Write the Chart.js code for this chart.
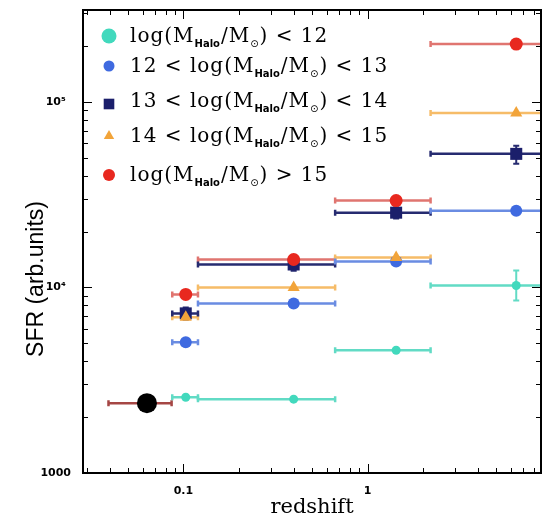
<!DOCTYPE html>
<html><head><meta charset="utf-8">
<script src="https://cdn.jsdelivr.net/npm/chart.js@4.4.1/dist/chart.umd.min.js"></script>
<style>html,body{margin:0;padding:0;background:#fff;}#wrap{width:551px;height:524px;position:relative;}</style>
</head><body><div id="wrap"><canvas id="c" width="551" height="524"></canvas></div>
<script>
// ---- data ----
const binCenter = [0.103, 0.397, 1.43, 6.42];
const binLow    = [0.087, 0.120, 0.667, 2.2];
const binHigh   = [0.120, 0.667, 2.2, 15];
const sfrBelow12 = [2560, 2500, 4590, 10250];
const sfr12to13  = [5060, 8200, 13800, 25900];
const sfr13to14  = [7250, 13300, 25300, 52500];
const sfr14to15  = [6900, 10000, 14500, 87300];
const sfrAbove15 = [9170, 14150, 29400, 205000];
const errLowBelow12  = [null, null, null, 8510];
const errHighBelow12 = [null, null, null, 12340];
const errLow13to14   = [6730, 12300, 23500, 46400];
const errHigh13to14  = [7800, 14000, 27000, 58000];
const localZ = [0.0634];
const localZLow = [0.0392];
const localZHigh = [0.0863];
const localSfr = [2380];
const xTickValues = [0.1, 1];
const xTickLabels = ['0.1', '1'];
const yTickValues = [1000, 10000, 100000];
const yTickLabels = ['1000', '10\u2074', '10\u2075'];
const yTitle = 'SFR (arb.units)';
const legendLabels = [
  [['log(M'], ['Halo', 'sub'], ['/M'], ['\u2299', 'sub'], [') < 12']],
  [['12 < log(M'], ['Halo', 'sub'], ['/M'], ['\u2299', 'sub'], [') < 13']],
  [['13 < log(M'], ['Halo', 'sub'], ['/M'], ['\u2299', 'sub'], [') < 14']],
  [['14 < log(M'], ['Halo', 'sub'], ['/M'], ['\u2299', 'sub'], [') < 15']],
  [['log(M'], ['Halo', 'sub'], ['/M'], ['\u2299', 'sub'], [') > 15']]
];

// ---- styles ----
const seriesDefs = [
  {vals: sfrBelow12, lo: errLowBelow12, hi: errHighBelow12, color: '#42d9bd', line: '#62dbc5', style: 'circle', r: 4.5, legR: 7.5},
  {vals: sfr12to13, lo: null, hi: null, color: '#3f6ae0', line: '#6a8ce2', style: 'circle', r: 6, legR: 5.5},
  {vals: sfr13to14, lo: errLow13to14, hi: errHigh13to14, color: '#1b1f6b', line: '#262b70', style: 'rect', r: 8.5, legR: 7.5},
  {vals: sfr14to15, lo: null, hi: null, color: '#f2a43a', line: '#f6bc68', style: 'triangle', r: 7, legR: 6},
  {vals: sfrAbove15, lo: null, hi: null, color: '#e8281f', line: '#e07570', style: 'circle', r: 6.5, legR: 6}
];

const datasets = [];
seriesDefs.forEach((s, k) => {
  datasets.push({
    data: binCenter.map((z, i) => ({x: z, y: s.vals[i]})),
    xLow: binLow, xHigh: binHigh, yLow: s.lo, yHigh: s.hi,
    barColor: s.line,
    pointStyle: s.style, pointRadius: s.r,
    backgroundColor: s.color, borderColor: s.color, borderWidth: 0,
    showLine: false, order: 5 - k
  });
});
datasets.push({
  data: localZ.map((z, i) => ({x: z, y: localSfr[i]})),
  xLow: localZLow, xHigh: localZHigh, yLow: null, yHigh: null,
  barColor: '#a54644',
  pointStyle: 'circle', pointRadius: 10,
  backgroundColor: '#000', borderColor: '#000', borderWidth: 0, showLine: false, order: 0
});

function marker(ctx, style, x, y, r, color) {
  ctx.fillStyle = color;
  ctx.beginPath();
  if (style === 'rect') {
    const s = Math.SQRT1_2 * r;
    ctx.rect(x - s, y - s, 2 * s, 2 * s);
  } else if (style === 'triangle') {
    ctx.moveTo(x, y - r);
    ctx.lineTo(x + r * 0.866, y + r * 0.5);
    ctx.lineTo(x - r * 0.866, y + r * 0.5);
    ctx.closePath();
  } else {
    ctx.arc(x, y, r, 0, Math.PI * 2);
  }
  ctx.fill();
}

const errorBars = {
  id: 'errorBars',
  beforeDatasetsDraw(chart) {
    const {ctx, chartArea: a, scales: {x, y}} = chart;
    ctx.save();
    ctx.beginPath();
    ctx.rect(a.left, a.top, a.right - a.left, a.bottom - a.top);
    ctx.clip();
    chart.data.datasets.slice().reverse().forEach(ds => {
      ctx.strokeStyle = ds.barColor;
      ctx.lineWidth = 2.5;
      ds.data.forEach((p, i) => {
        const py = y.getPixelForValue(p.y);
        const x0 = x.getPixelForValue(ds.xLow[i]);
        const x1 = x.getPixelForValue(ds.xHigh[i]);
        ctx.beginPath();
        ctx.moveTo(x0, py); ctx.lineTo(x1, py);
        ctx.moveTo(x0, py - 3); ctx.lineTo(x0, py + 3);
        ctx.moveTo(x1, py - 3); ctx.lineTo(x1, py + 3);
        ctx.stroke();
        if (ds.yLow && ds.yLow[i] != null) {
          const px = x.getPixelForValue(p.x);
          const y0 = y.getPixelForValue(ds.yLow[i]);
          const y1 = y.getPixelForValue(ds.yHigh[i]);
          ctx.lineWidth = 2;
          ctx.beginPath();
          ctx.moveTo(px, y0); ctx.lineTo(px, y1);
          ctx.moveTo(px - 3, y0); ctx.lineTo(px + 3, y0);
          ctx.moveTo(px - 3, y1); ctx.lineTo(px + 3, y1);
          ctx.stroke();
          ctx.lineWidth = 2.5;
        }
      });
    });
    ctx.restore();
  }
};

const frame = {
  id: 'frame',
  afterDraw(chart) {
    const {ctx, chartArea: a, scales: {x, y}} = chart;
    ctx.save();
    ctx.strokeStyle = '#000';
    ctx.lineWidth = 1;
    for (const d of [1000, 10000, 100000]) {
      for (let k = 1; k <= 9; k++) {
        const v = k * d;
        if (v < y.min || v > y.max) continue;
        const py = Math.round(y.getPixelForValue(v)) + 0.5;
        const len = k === 1 ? 9 : 5;
        ctx.beginPath();
        ctx.moveTo(a.left, py); ctx.lineTo(a.left + len, py);
        ctx.moveTo(a.right, py); ctx.lineTo(a.right - len, py);
        ctx.stroke();
      }
    }
    for (const d of [0.01, 0.1, 1]) {
      for (let k = 1; k <= 9; k++) {
        const v = k * d;
        if (v < x.min || v > x.max) continue;
        const px = Math.round(x.getPixelForValue(v)) + 0.5;
        const len = k === 1 ? 9 : 5;
        ctx.beginPath();
        ctx.moveTo(px, a.bottom); ctx.lineTo(px, a.bottom - len);
        ctx.moveTo(px, a.top); ctx.lineTo(px, a.top + len);
        ctx.stroke();
      }
    }
    ctx.lineWidth = 2;
    ctx.strokeRect(a.left, a.top, a.right - a.left, a.bottom - a.top);
    // y-axis title
    ctx.translate(37, 279);
    ctx.rotate(-Math.PI / 2);
    ctx.font = '23px "Liberation Sans"';
    ctx.fillStyle = '#000';
    ctx.textAlign = 'center';
    ctx.textBaseline = 'middle';
    ctx.fillText(yTitle, 0, 0);
    ctx.restore();
  }
};

const legendRowY = [36, 66, 101, 136, 175];
const legend = {
  id: 'customLegend',
  afterDraw(chart) {
    const ctx = chart.ctx;
    ctx.save();
    ctx.textBaseline = 'alphabetic';
    ctx.fillStyle = '#000';
    seriesDefs.forEach((s, i) => {
      const cy = legendRowY[i];
      marker(ctx, s.style, 109, cy + (s.style === 'rect' ? 3 : 0), s.legR, s.color);
      let tx = 130;
      const base = cy + 6;
      ctx.fillStyle = '#000';
      legendLabels[i].forEach(seg => {
        if (seg[1] === 'sub') {
          ctx.font = seg[0] === 'Halo' ? 'bold 10px "DejaVu Sans"' : '10px "DejaVu Sans"';
          ctx.letterSpacing = '0px';
          ctx.fillText(seg[0], tx, base + 5);
          tx += ctx.measureText(seg[0]).width + 1;
        } else {
          ctx.font = '20px "DejaVu Serif"';
          ctx.letterSpacing = '1px';
          ctx.fillText(seg[0], tx, base);
          tx += ctx.measureText(seg[0]).width;
        }
      });
    });
    ctx.restore();
  }
};

new Chart(document.getElementById('c'), {
  type: 'scatter',
  data: {datasets},
  plugins: [errorBars, frame, legend],
  options: {
    responsive: false,
    animation: false,
    devicePixelRatio: 1,
    layout: {padding: {left: 0, right: 3, top: 9, bottom: 0}},
    plugins: {legend: {display: false}, tooltip: {enabled: false}},
    scales: {
      x: {
        type: 'logarithmic', min: 0.0285, max: 8.75,
        grid: {display: false, drawTicks: false},
        border: {display: false},
        afterBuildTicks: s => { s.ticks = xTickValues.map(v => ({value: v})); },
        afterFit: s => { s.height = 51; s.paddingLeft = 0; s.paddingRight = 0; },
        ticks: {
          autoSkip: false, maxRotation: 0, padding: 12, color: '#000',
          font: {family: '"DejaVu Sans"', size: 11, weight: 'bold'},
          callback: (v) => xTickLabels[xTickValues.indexOf(v)] ?? ''
        },
        title: {display: true, text: 'redshift', color: '#000',
          font: {family: '"DejaVu Serif"', size: 21}, padding: {top: 0, bottom: 4}}
      },
      y: {
        type: 'logarithmic', min: 1000, max: 313000,
        grid: {display: false, drawTicks: false},
        border: {display: false},
        afterBuildTicks: s => { s.ticks = yTickValues.map(v => ({value: v})); },
        afterFit: s => { s.width = 83; s.paddingTop = 0; s.paddingBottom = 0; },
        ticks: {
          autoSkip: false, padding: 12, crossAlign: 'center', color: '#000',
          font: {family: '"DejaVu Sans"', size: 11, weight: 'bold'},
          callback: (v) => yTickLabels[yTickValues.indexOf(v)] ?? ''
        },
        title: {display: false}
      }
    }
  }
});
</script></body></html>
